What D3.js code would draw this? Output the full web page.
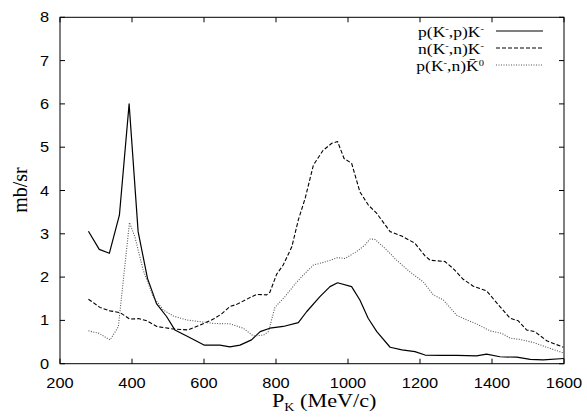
<!DOCTYPE html>
<html><head><meta charset="utf-8">
<script src="https://cdn.jsdelivr.net/npm/d3@7"></script>
<style>body{margin:0;background:#fff}svg{display:block}</style>
</head><body><svg id="c" width="587" height="419"></svg>
<script>
const xTicks=[200,400,600,800,1000,1200,1400,1600];
const yTicks=[0,1,2,3,4,5,6,7,8];
const ppX=[279,309,337,365,392,417,443,468,496,519,552,600,644,672,700,732,756,783,820,862,885,922,950,971,1010,1033,1056,1080,1117,1150,1186,1214,1260,1302,1357,1385,1422,1469,1506,1542,1600];
const ppY=[3.06,2.64,2.55,3.43,6.0,3.05,1.97,1.39,1.09,0.78,0.64,0.43,0.43,0.39,0.43,0.55,0.74,0.82,0.86,0.95,1.2,1.55,1.78,1.87,1.78,1.47,1.05,0.74,0.38,0.32,0.28,0.2,0.19,0.19,0.18,0.22,0.16,0.15,0.1,0.09,0.12];
const nnX=[279,311,339,367,394,420,441,469,515,556,589,626,649,672,691,719,746,774,783,802,820,844,862,881,904,931,955,971,989,1010,1033,1056,1080,1117,1149,1186,1214,1228,1269,1292,1320,1348,1385,1422,1450,1473,1496,1519,1552,1598];
const nnY=[1.49,1.30,1.22,1.18,1.03,1.04,0.99,0.86,0.80,0.78,0.89,1.03,1.15,1.32,1.37,1.49,1.6,1.59,1.65,2.07,2.28,2.70,3.32,3.82,4.59,4.93,5.09,5.13,4.74,4.63,3.97,3.67,3.47,3.05,2.95,2.78,2.49,2.39,2.36,2.2,1.95,1.79,1.68,1.32,1.05,0.99,0.78,0.74,0.53,0.38];
const pnX=[279,309,339,362,393,408,431,459,487,515,552,589,626,672,709,737,765,779,797,825,857,876,904,941,971,992,1024,1047,1061,1075,1107,1135,1172,1209,1237,1265,1302,1330,1357,1394,1427,1450,1478,1515,1552,1598];
const pnY=[0.76,0.70,0.55,0.85,3.26,2.93,2.16,1.55,1.24,1.10,1.01,0.97,0.93,0.92,0.82,0.64,0.66,0.74,1.30,1.55,1.88,2.05,2.28,2.36,2.45,2.43,2.59,2.74,2.88,2.87,2.63,2.39,2.12,1.89,1.59,1.47,1.12,1.01,0.92,0.76,0.70,0.59,0.56,0.49,0.38,0.25];

const svg=d3.select("#c");
const L=60,R=564,T=17.3,B=363.7;
const x=d3.scaleLinear().domain([200,1600]).range([L,R]);
const y=d3.scaleLinear().domain([0,8]).range([B,T]);
const sans="Liberation Sans, Arial, sans-serif", serif="Liberation Serif, Times New Roman, serif";
const SX=1.17;
function txt(px,py,anchor,family,size){
  return svg.append("text").attr("transform",`translate(${px},${py}) scale(${SX},1)`).attr("text-anchor",anchor).attr("font-family",family).attr("font-size",size);
}

// frame
svg.append("rect").attr("x",L).attr("y",T).attr("width",R-L).attr("height",B-T).attr("fill","none").attr("stroke","#000").attr("stroke-width",1);

// ticks inward
const tl=5;
xTicks.forEach(v=>{
  svg.append("line").attr("x1",x(v)).attr("x2",x(v)).attr("y1",B).attr("y2",B-tl).attr("stroke","#000");
  svg.append("line").attr("x1",x(v)).attr("x2",x(v)).attr("y1",T).attr("y2",T+tl).attr("stroke","#000");
  txt(x(v),388,"middle",sans,14).text(v);
});
yTicks.forEach(v=>{
  svg.append("line").attr("x1",L).attr("x2",L+tl).attr("y1",y(v)).attr("y2",y(v)).attr("stroke","#000");
  svg.append("line").attr("x1",R).attr("x2",R-tl).attr("y1",y(v)).attr("y2",y(v)).attr("stroke","#000");
  txt(L-11,y(v)+5,"end",sans,14).text(v);
});

// axis labels
const xl=txt(272,407,"start",serif,19);
xl.append("tspan").text("P");
xl.append("tspan").attr("font-size",12).attr("dy",4).text("K");
xl.append("tspan").attr("dy",-4).text(" (MeV/c)");
svg.append("text").attr("transform","translate(27,190) rotate(-90)").attr("text-anchor","middle").attr("font-family",serif).attr("font-size",20).text("mb/sr");

// lines
const line=d3.line().x(d=>x(d[0])).y(d=>y(d[1]));
const series=[
 {X:ppX,Y:ppY,dash:null,color:"#000",w:1.2},
 {X:nnX,Y:nnY,dash:"4,2",color:"#000",w:1.1},
 {X:pnX,Y:pnY,dash:"1,1.5",color:"#555",w:1.1}
];
series.forEach(s=>{
  const p=svg.append("path").datum(s.X.map((v,i)=>[v,s.Y[i]])).attr("d",line).attr("fill","none").attr("stroke",s.color).attr("stroke-width",s.w).attr("stroke-linejoin","round");
  if(s.dash)p.attr("stroke-dasharray",s.dash);
});

// legend
const leg=[
 {parts:[["p(K",0],["-",1],[",p)K",0],["-",1]]},
 {parts:[["n(K",0],["-",1],[",n)K",0],["-",1]]},
 {parts:[["p(K",0],["-",1],[",n)",0],["K\u0304",0],["0",1]]}
];
leg.forEach((l,i)=>{
  const yy=31+i*17;
  const t=txt(484,yy+5.5,"end",serif,15);
  l.parts.forEach(([s,k])=>{
    if(k===1){t.append("tspan").attr("font-size",9).attr("baseline-shift","super").text(s);}
    else t.append("tspan").text(s);
  });
  const s=series[i];
  const ln=svg.append("line").attr("x1",496).attr("x2",543).attr("y1",yy).attr("y2",yy).attr("stroke",s.color).attr("stroke-width",s.w);
  if(s.dash)ln.attr("stroke-dasharray",s.dash);
});
</script></body></html>
